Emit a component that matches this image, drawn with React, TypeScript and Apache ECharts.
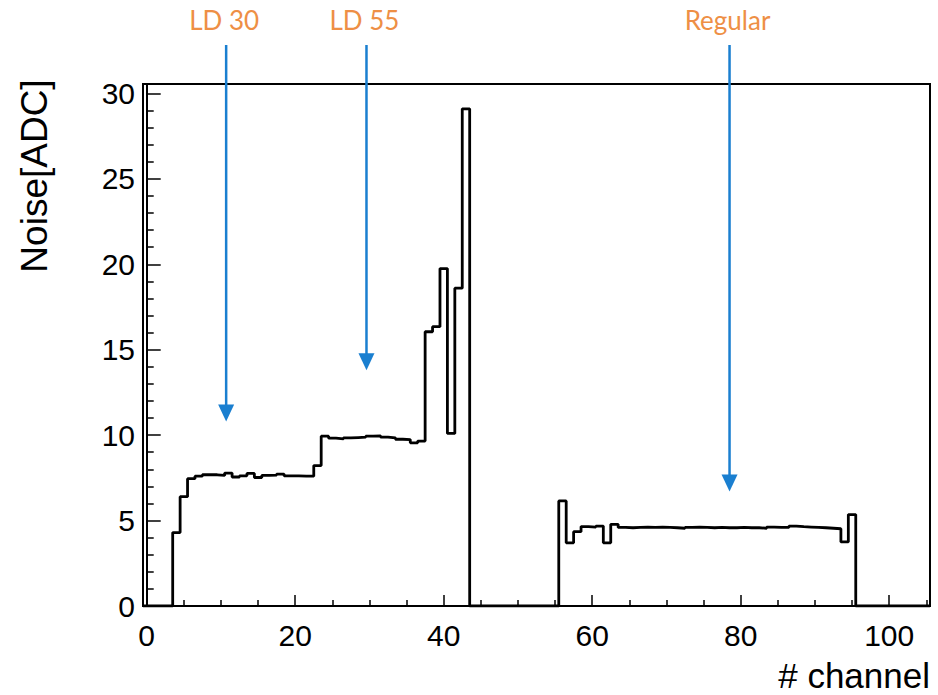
import React, { useEffect, useRef } from "react";
import * as echarts from "echarts";

// Noise per channel (channels 0..105)
const channels: number[] = Array.from({ length: 106 }, (_, i) => i);
const noise: number[] = [
  0, 0, 0, 0, 4.3, 6.4, 7.45, 7.6, 7.68, 7.68,
  7.64, 7.78, 7.55, 7.62, 7.76, 7.52, 7.64, 7.66, 7.72, 7.62,
  7.62, 7.6, 7.6, 8.22, 9.94, 9.82, 9.78, 9.84, 9.86, 9.88,
  9.94, 9.96, 9.88, 9.84, 9.76, 9.74, 9.55, 9.65, 16.05, 16.35,
  19.75, 10.1, 18.6, 29.1, 0, 0, 0, 0, 0, 0,
  0, 0, 0, 0, 0, 0, 6.15, 3.7, 4.35, 4.65,
  4.62, 4.68, 3.7, 4.78, 4.6, 4.58, 4.6, 4.62, 4.6, 4.62,
  4.6, 4.58, 4.55, 4.6, 4.62, 4.6, 4.58, 4.6, 4.58, 4.58,
  4.6, 4.58, 4.58, 4.55, 4.62, 4.6, 4.6, 4.68, 4.64, 4.62,
  4.6, 4.58, 4.55, 4.52, 3.75, 5.35, 0, 0, 0, 0,
  0, 0, 0, 0, 0, 0,
];

const xMajorTicks: number[] = [0, 20, 40, 60, 80, 100];
const xMinorTicks: number[] = [5, 10, 15, 25, 30, 35, 45, 50, 55, 65, 70, 75, 85, 90, 95, 105];
const yMajorTicks: number[] = [0, 5, 10, 15, 20, 25, 30];
const yMinorTicks: number[] = [
  1, 2, 3, 4, 6, 7, 8, 9, 11, 12, 13, 14, 16, 17, 18, 19, 21, 22, 23, 24, 26, 27, 28, 29,
];

// Annotations: label, channel position, arrow tip value
const arrowLabels: string[] = ["LD 30", "LD 55", "Regular"];
const arrowChannels: number[] = [10.7, 29.6, 78.5];
const arrowTips: number[] = [10.8, 13.8, 6.7];

const X_MIN = -0.5;
const X_MAX = 105.5;
const Y_MAX = 30.55;

export default function App() {
  const ref = useRef<HTMLDivElement>(null);

  useEffect(() => {
    if (!ref.current) return;
    const chart = echarts.init(ref.current, undefined, { renderer: "svg" });

    // histogram outline: left bin edges with step 'end'
    const histData: number[][] = channels.map((c, i) => [c - 0.5, noise[i]]);
    histData.push([channels[channels.length - 1] + 0.5, noise[noise.length - 1]]);

    const font = "'Liberation Sans', Arial, Helvetica, sans-serif";

    chart.setOption({
      animation: false,
      backgroundColor: "#ffffff",
      grid: {
        left: 143,
        right: 8,
        top: 84,
        bottom: 89,
        show: true,
        borderColor: "#000",
        borderWidth: 2,
        backgroundColor: "transparent",
      },
      xAxis: [
        {
          type: "value",
          min: X_MIN,
          max: X_MAX,
          axisLine: { show: true, lineStyle: { color: "#000", width: 2 } },
          axisTick: {
            show: true,
            inside: true,
            length: 11,
            customValues: xMajorTicks,
            lineStyle: { color: "#000", width: 1.5 },
          },
          axisLabel: {
            show: true,
            customValues: xMajorTicks,
            fontSize: 30,
            fontFamily: font,
            color: "#000",
            margin: 14,
          },
          splitLine: { show: false },
        },
        {
          type: "value",
          min: X_MIN,
          max: X_MAX,
          position: "bottom",
          axisLine: { show: false },
          axisTick: {
            show: true,
            inside: true,
            length: 6,
            customValues: xMinorTicks,
            lineStyle: { color: "#000", width: 1.5 },
          },
          axisLabel: { show: false },
          splitLine: { show: false },
        },
      ],
      yAxis: [
        {
          type: "value",
          min: 0,
          max: Y_MAX,
          axisLine: { show: true, lineStyle: { color: "#000", width: 2 } },
          axisTick: {
            show: true,
            inside: true,
            length: 14,
            customValues: yMajorTicks,
            lineStyle: { color: "#000", width: 1.5 },
          },
          axisLabel: {
            show: true,
            customValues: yMajorTicks,
            fontSize: 30,
            fontFamily: font,
            color: "#000",
            margin: 8,
          },
          splitLine: { show: false },
        },
        {
          type: "value",
          min: 0,
          max: Y_MAX,
          position: "left",
          axisLine: { show: false },
          axisTick: {
            show: true,
            inside: true,
            length: 7,
            customValues: yMinorTicks,
            lineStyle: { color: "#000", width: 1.5 },
          },
          axisLabel: { show: false },
          splitLine: { show: false },
        },
      ],
      series: [
        {
          type: "line",
          xAxisIndex: 0,
          yAxisIndex: 0,
          data: histData,
          step: "end",
          showSymbol: false,
          symbol: "none",
          lineStyle: { color: "#000", width: 2.8 },
          z: 5,
        },
      ],
    });

    const graphics: any[] = [];
    arrowLabels.forEach((label, i) => {
      const p = chart.convertToPixel({ gridIndex: 0 }, [arrowChannels[i], arrowTips[i]]) as number[];
      const px = p[0];
      const tip = p[1];
      graphics.push({
        type: "line",
        shape: { x1: px, y1: 45, x2: px, y2: tip - 12 },
        style: { stroke: "#1a7fd0", lineWidth: 2.5 },
        z: 10,
      });
      graphics.push({
        type: "polygon",
        shape: { points: [[px - 8, tip - 17], [px + 8, tip - 17], [px, tip]] },
        style: { fill: "#1a7fd0" },
        z: 10,
      });
      graphics.push({
        type: "text",
        x: px - 2,
        y: 20,
        style: {
          text: label,
          fill: "#ee8f45",
          font: "400 26px Lato, 'Open Sans', sans-serif",
          textAlign: "center",
          textVerticalAlign: "middle",
        },
        z: 10,
      });
    });
    graphics.push({
      type: "text",
      x: 34,
      y: 176,
      rotation: Math.PI / 2,
      style: {
        text: "Noise[ADC]",
        fill: "#000",
        font: "37px 'Liberation Sans', Arial, sans-serif",
        textAlign: "center",
        textVerticalAlign: "middle",
      },
    });
    graphics.push({
      type: "text",
      x: 930,
      y: 675,
      style: {
        text: "# channel",
        fill: "#000",
        font: "35px 'Liberation Sans', Arial, sans-serif",
        textAlign: "right",
        textVerticalAlign: "middle",
      },
    });
    chart.setOption({ graphic: graphics });

    return () => chart.dispose();
  }, []);

  return (
    <div
      ref={ref}
      style={{ position: "absolute", left: 0, top: 0, width: 938, height: 695 }}
    />
  );
}
